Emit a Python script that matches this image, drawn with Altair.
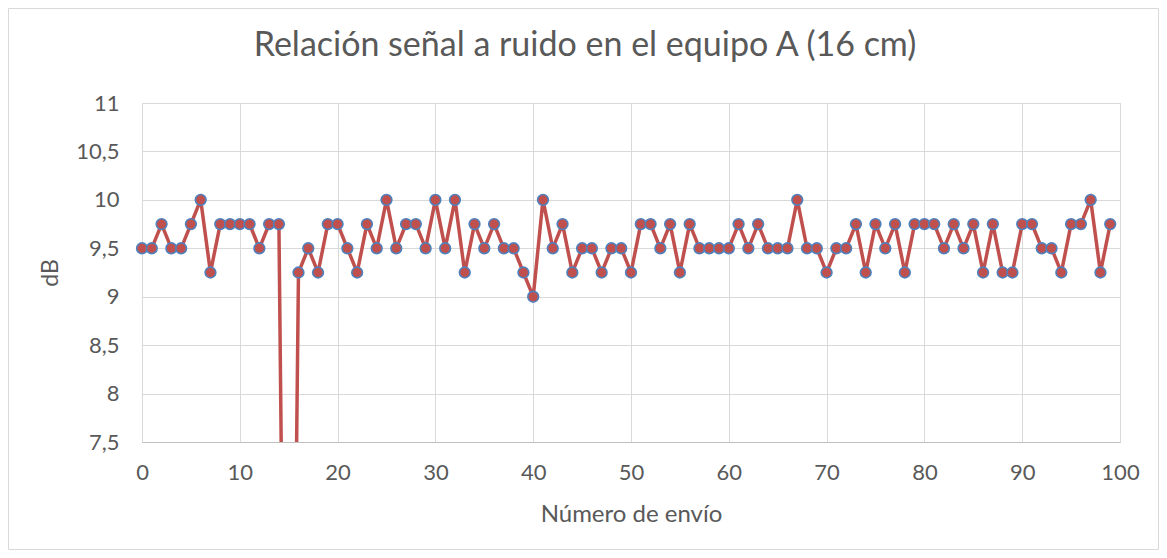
import altair as alt
import pandas as pd

envio = list(range(100))
db = [
    9.5, 9.5, 9.75, 9.5, 9.5, 9.75, 10, 9.25, 9.75, 9.75,
    9.75, 9.75, 9.5, 9.75, 9.75, 0, 9.25, 9.5, 9.25, 9.75,
    9.75, 9.5, 9.25, 9.75, 9.5, 10, 9.5, 9.75, 9.75, 9.5,
    10, 9.5, 10, 9.25, 9.75, 9.5, 9.75, 9.5, 9.5, 9.25,
    9, 10, 9.5, 9.75, 9.25, 9.5, 9.5, 9.25, 9.5, 9.5,
    9.25, 9.75, 9.75, 9.5, 9.75, 9.25, 9.75, 9.5, 9.5, 9.5,
    9.5, 9.75, 9.5, 9.75, 9.5, 9.5, 9.5, 10, 9.5, 9.5,
    9.25, 9.5, 9.5, 9.75, 9.25, 9.75, 9.5, 9.75, 9.25, 9.75,
    9.75, 9.75, 9.5, 9.75, 9.5, 9.75, 9.25, 9.75, 9.25, 9.25,
    9.75, 9.75, 9.5, 9.5, 9.25, 9.75, 9.75, 10, 9.25, 9.75,
]
x_ticks = [0, 10, 20, 30, 40, 50, 60, 70, 80, 90, 100]
y_ticks = [7.5, 8, 8.5, 9, 9.5, 10, 10.5, 11]

df = pd.DataFrame({"envio": envio, "db": db})

FONT = "Lato"
TXT = "#595959"
GRID = "#d9d9d9"

x_enc = alt.X(
    "envio:Q",
    scale=alt.Scale(domain=[0, 100], nice=False, zero=False),
    axis=alt.Axis(
        values=x_ticks, title="Número de envío", grid=True, gridColor=GRID,
        ticks=False, domainColor="#bfbfbf", labelBaseline="middle",
        labelFlush=False, labelOverlap=False,
        labelPadding=30, titlePadding=19, labelFontSize=22, titleFontSize=24,
        labelColor=TXT, titleColor=TXT, labelFont=FONT, titleFont=FONT,
        titleFontWeight="normal",
    ),
)
y_enc = alt.Y(
    "db:Q",
    scale=alt.Scale(domain=[7.5, 11], nice=False, zero=False),
    axis=alt.Axis(
        values=y_ticks, title="dB", grid=True, gridColor=GRID, ticks=False,
        domain=False, labelPadding=23, titlePadding=13, labelFontSize=22,
        titleFontSize=23, labelColor=TXT, titleColor=TXT, labelFont=FONT,
        titleFont=FONT, titleFontWeight="normal", labelFlush=False,
        labelExpr="replace(format(datum.value, '~g'), '.', ',')",
    ),
)

line = alt.Chart(df).mark_line(color="#c0504d", strokeWidth=3.5, clip=True).encode(
    x=x_enc, y=y_enc
)
pts = alt.Chart(df).transform_filter("datum.db >= 7.5").mark_point(
    shape="circle", filled=True, fill="#c0504d", stroke="#4f81bd",
    strokeWidth=1.6, size=115, opacity=1,
).encode(x="envio:Q", y="db:Q")

border = alt.Chart(pd.DataFrame({"k": [0]})).mark_rect(
    fill=None, stroke=GRID, strokeWidth=1, clip=False
).encode(
    x=alt.value(-133.5), x2=alt.value(1016.5),
    y=alt.value(-94.5), y2=alt.value(446.5),
)

chart = alt.layer(border, line, pts).properties(
    width=978,
    height=339,
    padding={"left": 134, "top": 95, "right": 39, "bottom": 108},
    autosize=alt.AutoSizeParams(type="none"),
    title=alt.TitleParams(
        "Relación señal a ruido en el equipo A (16 cm)",
        anchor="middle", frame="group", dx=-46, dy=125.5, baseline="alphabetic",
        offset=44, fontSize=34, font=FONT, color=TXT, fontWeight="normal",
    ),
).configure_view(stroke=None).configure(background="white")

chart.save("out.html", embed_options={"renderer": "svg", "actions": False})
